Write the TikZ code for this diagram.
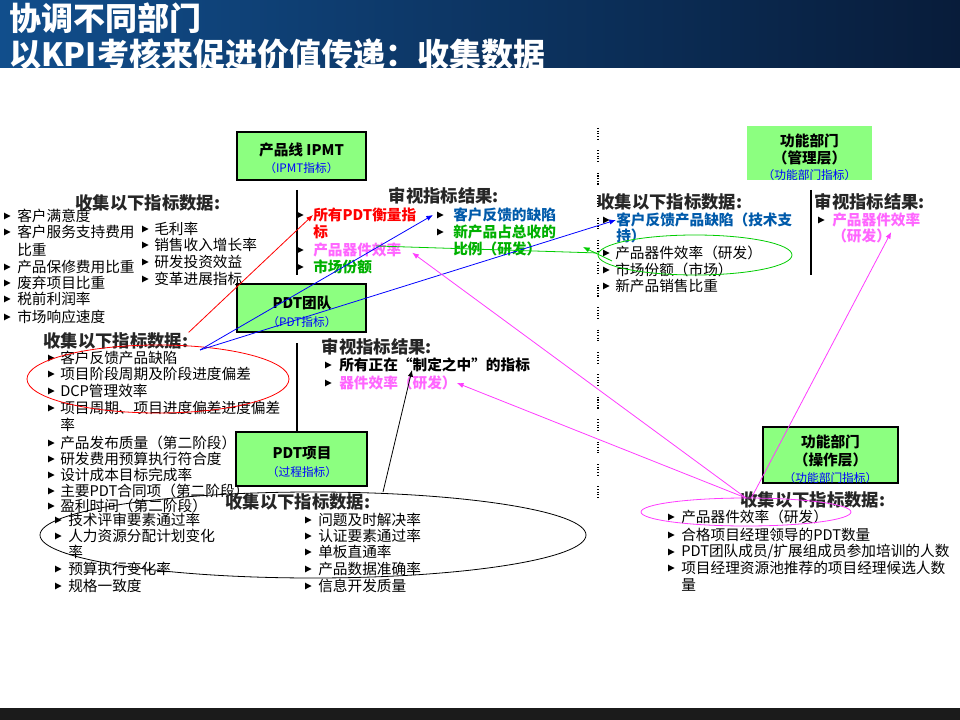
\documentclass[tikz,border=0pt]{standalone}
\usepackage{fontspec}
\setmainfont{Noto Sans CJK SC}
\usetikzlibrary{arrows.meta}
\definecolor{boxgreen}{RGB}{140,255,128}
\definecolor{tmag}{RGB}{255,102,255}
\definecolor{tgreen}{RGB}{0,176,0}
\definecolor{tblue}{RGB}{0,90,170}
\definecolor{lmag}{RGB}{255,60,255}
\definecolor{lgreen}{RGB}{0,204,0}
\definecolor{titleL}{RGB}{17,78,140}
\definecolor{titleR}{RGB}{8,28,58}
\definecolor{footbar}{RGB}{27,27,27}
\newcommand\itm[6][]{\pic at (#3,#5) {bulmark}; \node[itemtext,#1] (#2) at (#4,#5) {#6};}
\newcommand\cnt[5][]{\node[itemtext,#1] (#2) at (#3,#4) {#5};}
\tikzset{
  pics/bulmark/.style={code={\fill (0,-3.4) -- (6.5,0) -- (0,3.4) -- cycle;}},
  itemtext/.style={anchor=west, inner sep=0pt, font=\fontsize{11}{13}\selectfont},
  itb/.style={font=\fontsize{11}{13}\selectfont\bfseries},
  headtext/.style={anchor=center, inner sep=0pt, font=\fontsize{13}{15}\selectfont\bfseries, text=black!85},
  titletext/.style={anchor=west, inner sep=0pt, text=white, font=\fontsize{24}{26}\selectfont\bfseries},
  bx/.style={fill=boxgreen, draw=black, line width=1.1pt, inner sep=0pt},
  bxnb/.style={fill=boxgreen, inner sep=0pt},
  boxtitle/.style={inner sep=0pt, font=\fontsize{11}{12}\selectfont\bfseries},
  boxsub/.style={inner sep=0pt, text=blue, font=\fontsize{8.8}{9}\selectfont},
  conn/.style={line width=0.6pt, -{Latex[length=5pt,width=4pt]}},
  ell/.style={line width=0.6pt},
  vline/.style={line width=0.9pt},
  dotline/.style={line width=0.8pt, dash pattern={on 0.8pt off 1.2pt on 0.8pt off 1.2pt on 0.8pt off 1.2pt on 0.8pt off 1.2pt on 0.8pt off 8pt}}
}
\begin{document}
\begin{tikzpicture}[x=0.75pt,y=-0.75pt]
\useasboundingbox (0,0) rectangle (960,720);
% title and footer bars
\shade[left color=titleL,right color=titleR] (0,0) rectangle (960,68);
\fill[footbar] (0,708) rectangle (960,720);
\begin{scope}
\clip (0,0) rectangle (960,68);
\node[titletext] (t1) at (9,18) {协调不同部门};
\node[titletext] (t2) at (9,54) {以KPI考核来促进价值传递：收集数据};
\end{scope}

% boxes
\node[bx, minimum width=96.75pt, minimum height=36pt] (ipmt) at (301.5,156) {};
\node[boxtitle] (ipmt1) at (301.5,150) {产品线 IPMT};
\node[boxsub] (ipmt2) at (301.5,168) {（IPMT指标）};
\node[bx, minimum width=96.75pt, minimum height=36pt] (team) at (301.5,308) {};
\node[boxtitle] (team1) at (302,303) {PDT团队};
\node[boxsub] (team2) at (302,322) {（PDT指标）};
\node[bx, minimum width=98.25pt, minimum height=40.5pt] (proj) at (301.5,459) {};
\node[boxtitle] (proj1) at (302,453) {PDT项目};
\node[boxsub] (proj2) at (302,472) {（过程指标）};
\node[bxnb, minimum width=93.75pt, minimum height=40.5pt] (mgmt) at (809.5,153) {};
\node[boxtitle] (mgmt1) at (809.5,141) {功能部门};
\node[boxtitle] (mgmt2) at (809.5,158) {（管理层）};
\node[boxsub] (mgmt3) at (809.5,175) {（功能部门指标）};
\node[bx, minimum width=101.25pt, minimum height=42pt] (oper) at (830.5,455) {};
\node[boxtitle] (oper1) at (830.5,442) {功能部门};
\node[boxtitle] (oper2) at (830.5,460) {（操作层）};
\node[boxsub] (oper3) at (830.5,478) {（功能部门指标）};

% vertical rules
\draw[vline] (297,190) -- (297,275);
\draw[vline] (297,343) -- (proj.north -| 297,0);
\draw[vline] (811,190) -- (811,275);
\draw[dotline] (598,128) -- (598,508);

% block A
\node[headtext] (hA) at (148,203) {收集以下指标数据:};
\itm{a1}{4}{17}{216}{客户满意度}
\itm{a2}{4}{17}{232}{客户服务支持费用}
\cnt{a2b}{17}{250}{比重}
\itm{a3}{4}{17}{267}{产品保修费用比重}
\itm{a4}{4}{17}{283}{废弃项目比重}
\itm{a5}{4}{17}{299}{税前利润率}
\itm{a6}{4}{17}{317}{市场响应速度}
\itm{a7}{142}{154}{229}{毛利率}
\itm{a8}{142}{154}{245}{销售收入增长率}
\itm{a9}{142}{154}{262}{研发投资效益}
\itm{a10}{142}{154}{279}{变革进展指标}

% block B
\node[headtext] (hB) at (444,196) {审视指标结果:};
\itm[itb,text=red]{b1a}{297}{313}{215}{所有PDT衡量指}
\cnt[itb,text=red]{b1a2}{313}{232}{标}
\itm[itb,text=tmag]{b1b}{297}{313}{250}{产品器件效率}
\itm[itb,text=tgreen]{b1c}{297}{313}{267}{市场份额}
\itm[itb,text=tblue]{b2a}{437}{453}{215}{客户反馈的缺陷}
\itm[itb,text=tgreen]{b2b}{437}{453}{232}{新产品占总收的}
\cnt[itb,text=tgreen]{b2b2}{453}{249}{比例（研发）}

% block C
\node[headtext] (hC) at (116,341) {收集以下指标数据:};
\itm{c1}{48}{60}{358}{客户反馈产品缺陷}
\itm{c2}{48}{60}{374}{项目阶段周期及阶段进度偏差}
\itm{c3}{48}{60}{391}{DCP管理效率}
\itm{c4}{48}{60}{408}{项目周期、项目进度偏差进度偏差}
\cnt{c4b}{60}{425}{率}
\itm{c5}{48}{60}{443}{产品发布质量（第二阶段）}
\itm{c6}{48}{60}{459}{研发费用预算执行符合度}
\itm{c7}{48}{60}{475}{设计成本目标完成率}
\itm{c8}{48}{60}{491}{主要PDT合同项（第二阶段）}
\itm{c9}{48}{60}{506}{盈利时间（第二阶段）}

% block D
\node[headtext] (hD) at (377,347) {审视指标结果:};
\itm[itb]{d1}{325}{339}{365}{所有正在“制定之中”的指标}
\itm[itb,text=tmag]{d2}{325}{339}{383}{器件效率（研发）}

% block E
\node[headtext] (hE) at (298,502) {收集以下指标数据:};
\itm{e1}{55}{68}{520}{技术评审要素通过率}
\itm{e2}{55}{68}{536}{人力资源分配计划变化}
\cnt{e2b}{68}{552}{率}
\itm{e3}{55}{68}{569}{预算执行变化率}
\itm{e4}{55}{68}{586}{规格一致度}
\itm{e5}{305}{318}{520}{问题及时解决率}
\itm{e6}{305}{318}{536}{认证要素通过率}
\itm{e7}{305}{318}{552}{单板直通率}
\itm{e8}{305}{318}{569}{产品数据准确率}
\itm{e9}{305}{318}{586}{信息开发质量}

% block F
\node[headtext] (hF) at (670,202) {收集以下指标数据:};
\itm[itb,text=tblue]{f1a}{603}{616}{220}{客户反馈产品缺陷（技术支}
\cnt[itb,text=tblue]{f1b}{616}{236}{持）}
\itm{f2}{603}{615}{253}{产品器件效率（研发）}
\itm{f3}{603}{615}{270}{市场份额（市场）}
\itm{f4}{603}{615}{286}{新产品销售比重}

% block G
\node[headtext] (hG) at (870,202) {审视指标结果:};
\itm[itb,text=tmag]{g1a}{818}{832}{220}{产品器件效率}
\cnt[itb,text=tmag]{g1b}{832}{236}{（研发）}

% block H
\node[headtext] (hH) at (813,500) {收集以下指标数据:};
\itm{h1}{668}{681}{517}{产品器件效率（研发）}
\itm{h2}{668}{681}{535}{合格项目经理领导的PDT数量}
\itm{h3}{668}{681}{552}{PDT团队成员/扩展组成员参加培训的人数}
\itm{h4}{668}{681}{568}{项目经理资源池推荐的项目经理候选人数}
\cnt{h4b}{681}{585}{量}

% ellipses
\draw[ell, red] (158,379) ellipse [x radius=131, y radius=34];
\draw[ell, lgreen] (695,255) ellipse [x radius=97, y radius=20];
\draw[ell, black] (313,535) ellipse [x radius=273, y radius=43];
\draw[ell, lmag] (746,512) ellipse [x radius=105, y radius=14];

% connectors
\coordinate (bs) at (200,350);
\coordinate (gl) at (598,253);
\coordinate (ga) at (612,261);
\coordinate (gt) at (583,247);
\coordinate (mtop) at (746,498);
\coordinate (ktop) at (383,492);
\coordinate (kt) at (412,370);
\draw[conn, red] (hC.north east) -- (b1a.west);
\draw[conn, blue] (bs) -- ([xshift=-15pt]b2a.west);
\draw[conn, blue] (bs) -- (f1a.west);
\draw[ell, lgreen] (gl) -- ([xshift=14pt,yshift=3pt]b1b.center);
\draw[conn, lgreen] (ga) -- (gt);
\draw[conn, lmag] (mtop) -- ([xshift=8pt,yshift=-2pt]b1b.east);
\draw[conn, lmag] (mtop) -- (d2.east);
\draw[conn, lmag] ([xshift=4pt]mtop) -- ([yshift=3pt]g1b.east);
\draw[conn] (ktop) -- (kt);
\end{tikzpicture}
\end{document}
